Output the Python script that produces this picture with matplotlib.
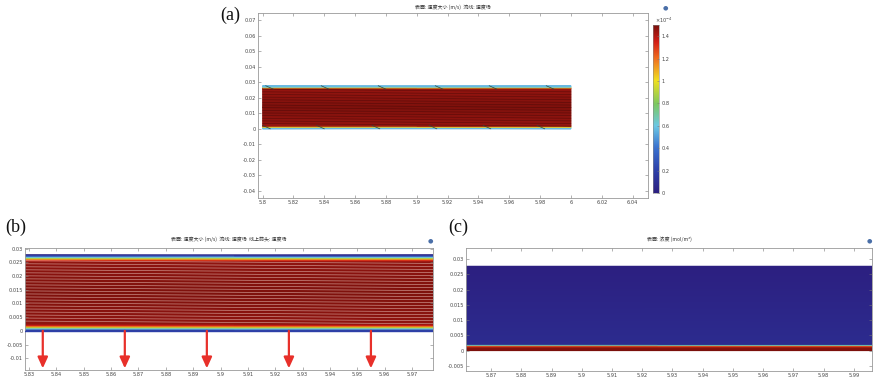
import numpy as np
import matplotlib
matplotlib.use("Agg")
import matplotlib.pyplot as plt
from matplotlib.colors import LinearSegmentedColormap

# velocity magnitude profile across the channel (x1e-4 m/s) (panel b)
speed_y = [0.0, 0.0004, 0.0008, 0.0012, 0.0016, 0.0020, 0.0025, 0.0139,
           0.0252, 0.0257, 0.0261, 0.0265, 0.0269, 0.0273, 0.0277]
speed_v = [0.02, 0.30, 0.60, 0.90, 1.15, 1.35, 1.46, 1.49,
           1.46, 1.35, 1.15, 0.90, 0.60, 0.30, 0.02]

# coarser view in panel a: walls read as light blue, then yellow / orange
speed_a_y = [0.0, 0.0007, 0.0012, 0.0018, 0.0139, 0.0259, 0.0265, 0.0270, 0.0277]
speed_a_v = [0.55, 0.60, 1.05, 1.45, 1.49, 1.45, 1.05, 0.60, 0.55]

# concentration profile (normalised) for panel c
conc_y = [0.0, 0.0010, 0.0015, 0.0018, 0.0021, 0.0277]
conc_v = [1.0, 0.98, 0.85, 0.45, 0.05, 0.0]

# streamline start heights
stream_a_y0 = [0.0255, 0.0238, 0.0221, 0.0204, 0.0187, 0.0170, 0.0153,
               0.0136, 0.0119, 0.0102, 0.0085, 0.0068, 0.0051, 0.0034]
stream_b_y0 = [0.0256, 0.0245, 0.0234, 0.0223, 0.0212, 0.0201, 0.0190,
               0.0179, 0.0168, 0.0157, 0.0146, 0.0135, 0.0124, 0.0113,
               0.0102, 0.0091, 0.0080, 0.0069, 0.0058, 0.0047, 0.0036]
stream_drop = 0.0017

# wall crossing marks in panel a
marks_top = [5.802, 5.838, 5.875, 5.912, 5.947, 5.984]
marks_bot = [5.800, 5.835, 5.871, 5.908, 5.943, 5.978]

# permeate arrows in panel b
arrow_x = [5.835, 5.865, 5.895, 5.925, 5.955]

cb_ticks = [0, 0.2, 0.4, 0.6, 0.8, 1.0, 1.2, 1.4]
cb_labels = ["0", "0.2", "0.4", "0.6", "0.8", "1", "1.2", "1.4"]

cmap = LinearSegmentedColormap.from_list("comsol_rainbow", [
    (0.00, "#2c1f80"), (0.13, "#2d3fa8"), (0.27, "#3a72d0"),
    (0.40, "#6cc8e4"), (0.53, "#7cc860"), (0.67, "#f0e020"),
    (0.80, "#f07020"), (0.90, "#d42018"), (1.00, "#7a100c")])

cjk = ["Noto Sans CJK SC", "DejaVu Sans"]
TICK_FS = 3.6
tick_col = "#444444"


def fmt(v):
    s = ("%.3f" % v).rstrip("0").rstrip(".")
    return "0" if s in ("-0", "0") else s


def style_axes(ax, xt, yt):
    ax.set_xticks(xt)
    ax.set_xticklabels([fmt(v) for v in xt])
    ax.set_yticks(yt)
    ax.set_yticklabels([fmt(v) for v in yt])
    ax.tick_params(direction="in", length=2, width=0.4, colors="#777777",
                   labelcolor=tick_col, labelsize=TICK_FS, pad=1.5,
                   top=True, right=True)
    for s in ax.spines.values():
        s.set_color("#999999")
        s.set_linewidth(0.6)


def draw_profile(ax, x0, x1, ys, vs, vmax):
    C = np.tile(np.array(vs)[:, None], (1, 2))
    ax.pcolormesh([x0, x1], ys, C, shading="gouraud", cmap=cmap,
                  vmin=0, vmax=vmax, zorder=1)


fig = plt.figure(figsize=(8.74, 3.86), dpi=100)

# ---- panel a
axa = fig.add_axes([258 / 874, 1 - 198 / 386, 390 / 874, 185 / 386])
draw_profile(axa, 5.8, 6.0, speed_a_y, speed_a_v, 1.5)
for y0 in stream_a_y0:
    axa.plot([5.8, 6.0], [y0, y0 - stream_drop], color="#3a0606", lw=0.45,
             alpha=0.55, zorder=2)
for xm in marks_top:
    axa.plot([xm, xm + 0.005], [0.0277, 0.0255], color="#2a4a40", lw=0.5, zorder=3)
for xm in marks_bot:
    axa.plot([xm, xm + 0.005], [0.0022, 0.0], color="#2a4a40", lw=0.5, zorder=3)
axa.set_xlim(5.797, 6.05)
axa.set_ylim(-0.0445, 0.0745)
style_axes(axa, np.arange(5.8, 6.041, 0.02), np.arange(-0.04, 0.0701, 0.01))
axa.set_title("表面: 速度大小 (m/s)  流线: 速度场", fontsize=3.6,
              family=cjk, color="#333333", pad=3)

# colorbar
cax = fig.add_axes([653 / 874, 1 - 193 / 386, 6 / 874, 168 / 386])
cax.imshow(np.linspace(0, 1.5, 256)[:, None], aspect="auto", cmap=cmap,
           origin="lower", extent=[0, 1, 0, 1.5], vmin=0, vmax=1.5)
cax.set_xticks([])
cax.yaxis.tick_right()
cax.set_yticks(cb_ticks)
cax.set_yticklabels(cb_labels)
cax.tick_params(direction="in", length=1.5, width=0.4, colors="#777777",
                labelcolor=tick_col, labelsize=TICK_FS, pad=2)
for s in cax.spines.values():
    s.set_linewidth(0.4)
    s.set_color("#888888")
fig.text(655 / 874, 1 - 20 / 386, r"$\times10^{-4}$", fontsize=3.6,
         color=tick_col, ha="left", va="center")

# ---- panel b
axb = fig.add_axes([25 / 874, 1 - 370 / 386, 408 / 874, 122 / 386])
draw_profile(axb, 5.82, 5.99, speed_y, speed_v, 1.5)
for y0 in stream_b_y0:
    axb.plot([5.82, 5.99], [y0, y0 - 0.0011], color="#e8c0b8", lw=0.5,
             alpha=0.7, zorder=2)
axb.axhline(0, color="#2d3fa8", lw=1.0, zorder=3)
for xa in arrow_x:
    axb.annotate("", xy=(xa, -0.0137), xytext=(xa, 0.0),
                 arrowprops=dict(arrowstyle="-|>,head_length=0.55,head_width=0.25",
                                 color="#e8302a", lw=1.6, mutation_scale=12,
                                 shrinkA=0, shrinkB=0), zorder=4)
axb.set_xlim(5.8285, 5.9777)
axb.set_ylim(-0.0143, 0.0302)
style_axes(axb, np.arange(5.83, 5.9701, 0.01), np.arange(-0.01, 0.0301, 0.005))
axb.set_title("表面: 速度大小 (m/s)  流线: 速度场  线上箭头: 速度场", fontsize=3.6,
              family=cjk, color="#333333", pad=5)

# ---- panel c
axc = fig.add_axes([466 / 874, 1 - 371 / 386, 406 / 874, 123 / 386])
draw_profile(axc, 5.85, 6.0, conc_y, conc_v, 1.0)
axc.set_xlim(5.8617, 5.996)
axc.set_ylim(-0.0067, 0.0337)
style_axes(axc, np.arange(5.87, 5.9901, 0.01), np.arange(-0.005, 0.0301, 0.005))
axc.set_title("表面: 浓度 (mol/m³)", fontsize=3.6, family=cjk,
              color="#333333", pad=5)

# panel letters
for lx, ly, lab in [(230, 15, "(a)"), (16, 227, "(b)"), (458, 227, "(c)")]:
    fig.text(lx / 874, 1 - ly / 386, lab, fontsize=13, family="Liberation Serif",
             ha="center", va="center", color="#111111")

# small toolbar icons
for ix, iy in [(665, 8), (430, 241), (869, 241)]:
    fig.text(ix / 874, 1 - iy / 386, "●", fontsize=4.5, color="#4a6fa8",
             ha="center", va="center")

fig.savefig("out.png", dpi=100, facecolor="white")
